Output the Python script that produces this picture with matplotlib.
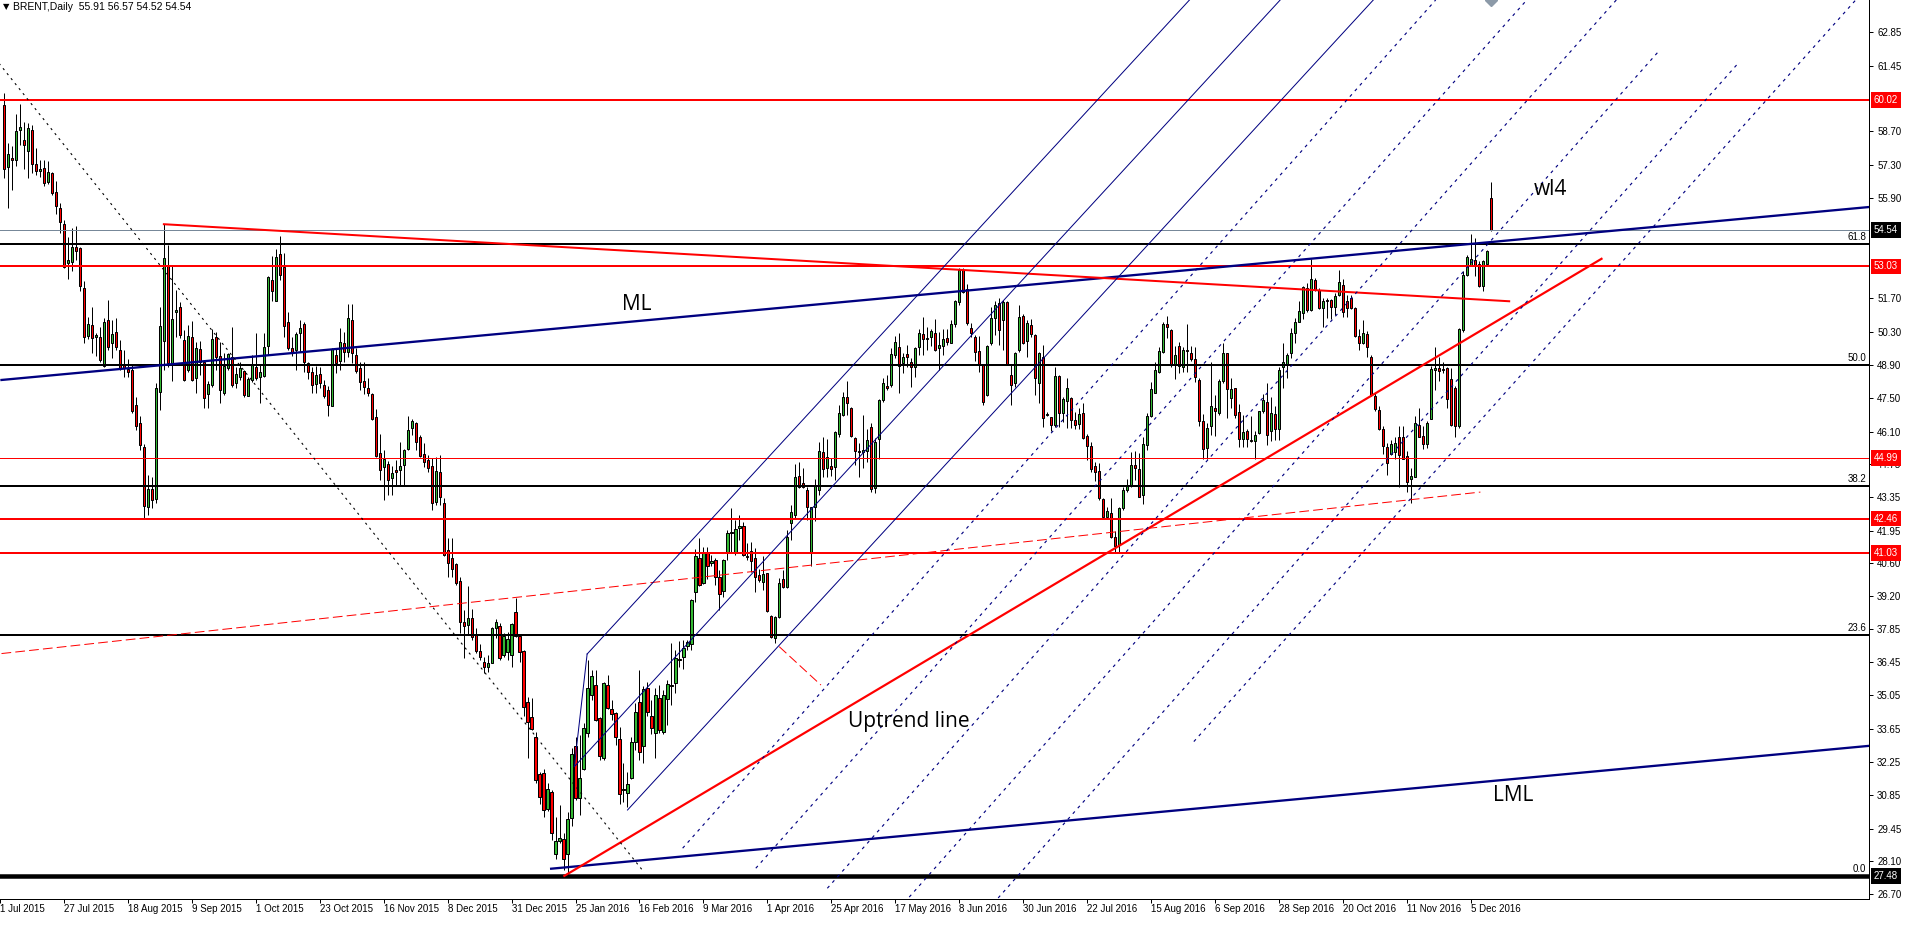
import numpy as np
import matplotlib
matplotlib.use("Agg")
import matplotlib.pyplot as plt
from matplotlib.ticker import FormatStrFormatter

plt.rcParams['lines.scale_dashes'] = False
plt.rcParams['font.family'] = ['Liberation Sans', 'DejaVu Sans']

# ---- daily candles, bar index 0 = 6 Jul 2015 ----
opens = [
    59.80, 57.18, 57.58, 57.50, 58.73, 58.34, 57.85, 58.75, 57.32, 57.04,
    57.15, 56.56, 56.94, 56.14, 55.46, 54.81, 53.16, 53.21, 53.86, 53.79,
    52.12, 50.13, 50.58, 50.06, 50.09, 48.86, 50.79, 49.84, 50.27, 49.53,
    48.90, 48.72, 48.69, 47.22, 46.46, 45.48, 42.95, 43.70, 43.30, 47.76,
    49.92, 53.07, 48.94, 51.10, 51.35, 49.95, 48.69, 50.06, 48.34, 49.56,
    49.04, 47.67, 48.06, 50.06, 49.28, 47.71, 48.76, 49.22, 48.13, 48.41,
    48.65, 47.60, 48.27, 48.83, 48.41, 48.45, 49.71, 52.47, 51.60, 53.56,
    53.02, 50.68, 49.60, 49.53, 50.23, 50.62, 48.97, 48.62, 48.11, 48.52,
    48.06, 47.83, 47.19, 49.32, 49.08, 49.84, 49.46, 50.79, 49.32, 48.76,
    48.23, 47.92, 47.69, 46.71, 45.20, 44.64, 44.75, 44.15, 44.50, 44.50,
    44.71, 45.37, 46.25, 46.46, 45.90, 45.16, 44.92, 44.67, 43.17, 44.43,
    43.10, 41.15, 40.80, 40.54, 39.85, 38.14, 38.00, 38.28, 37.58, 36.91,
    36.44, 36.25, 36.42, 37.86, 37.96, 36.74, 36.88, 36.74, 38.53, 37.54,
    36.91, 34.76, 34.13, 33.29, 31.75, 31.78, 30.27, 31.01, 28.39, 28.94,
    29.03, 28.39, 29.89, 32.93, 30.73, 31.95, 33.46, 35.05, 35.49, 34.09,
    32.41, 35.49, 34.48, 34.30, 33.21, 31.13, 30.94, 31.57, 33.11, 34.79,
    32.93, 35.35, 34.19, 33.46, 34.93, 33.50, 34.88, 35.49, 35.58, 36.57,
    36.64, 37.13, 37.20, 39.36, 40.80, 39.75, 41.05, 40.59, 40.73, 40.03,
    39.44, 41.01, 41.91, 41.01, 42.05, 42.15, 40.89, 41.12, 40.80, 40.10,
    39.78, 40.17, 38.38, 37.44, 38.32, 39.92, 39.61, 42.26, 42.61, 44.26,
    43.94, 43.66, 41.01, 42.96, 43.66, 45.23, 44.57, 44.67, 44.61, 46.01,
    46.81, 47.57, 47.08, 45.83, 45.31, 45.27, 45.30, 46.29, 43.73, 45.78,
    47.43, 48.00, 48.06, 49.32, 49.67, 49.00, 49.36, 49.01, 48.80, 49.64,
    50.18, 49.98, 50.06, 50.23, 49.60, 49.70, 50.02, 49.84, 50.60, 51.55,
    52.88, 52.07, 50.44, 50.09, 49.49, 48.90, 47.64, 49.84, 50.86, 51.51,
    50.79, 51.55, 48.48, 48.13, 49.53, 50.95, 49.92, 50.58, 50.16, 48.13,
    49.22, 46.80, 46.70, 46.38, 48.44, 46.90, 47.40, 47.50, 46.59, 46.42,
    46.87, 45.92, 45.50, 44.66, 44.45, 43.27, 42.51, 42.68, 41.70, 41.35,
    42.89, 43.66, 43.84, 44.71, 44.52, 43.45, 45.55, 46.76, 47.74, 48.62,
    49.46, 50.60, 50.37, 48.90, 49.70, 48.83, 49.53, 49.42, 49.15, 48.27,
    46.53, 45.41, 46.35, 47.09, 46.88, 48.21, 49.39, 47.51, 47.93, 46.91,
    45.79, 46.15, 45.77, 45.73, 46.04, 46.95, 47.33, 46.15, 46.85, 46.21,
    48.81, 48.95, 49.42, 50.23, 50.72, 51.07, 52.12, 51.21, 52.47, 52.05,
    51.28, 51.63, 51.63, 51.35, 51.84, 52.26, 51.60, 51.70, 51.28, 50.12,
    49.84, 50.20, 49.25, 47.60, 47.02, 46.21, 45.45, 45.17, 45.23, 45.87,
    45.87, 45.09, 44.11, 44.22, 46.39, 45.93, 45.59, 46.63, 48.67, 48.77,
    48.72, 48.77, 48.30, 47.93, 46.32, 50.37, 52.68, 53.06, 53.31, 53.14,
    52.19, 53.14, 55.91]

highs = [
    60.29, 58.20, 58.06, 59.41, 59.83, 59.10, 59.03, 58.95, 57.99, 57.50,
    57.50, 57.43, 56.97, 56.63, 55.68, 54.98, 54.28, 54.63, 54.73, 53.86,
    52.40, 50.93, 51.35, 50.23, 50.51, 50.86, 51.63, 50.79, 50.86, 49.95,
    49.53, 49.14, 48.90, 47.57, 46.74, 45.60, 44.30, 44.20, 48.13, 51.35,
    54.80, 53.93, 53.03, 52.05, 51.53, 50.37, 50.58, 50.76, 49.88, 49.92,
    49.11, 48.23, 50.40, 50.30, 49.88, 49.39, 49.42, 50.51, 48.80, 49.04,
    48.69, 48.41, 49.32, 50.23, 48.90, 50.26, 52.61, 53.47, 53.75, 54.31,
    53.58, 51.14, 50.09, 50.30, 50.79, 50.68, 49.04, 48.83, 48.86, 48.83,
    48.27, 48.00, 49.60, 49.60, 50.44, 50.30, 51.46, 51.46, 49.60, 49.04,
    49.04, 48.34, 47.72, 47.04, 46.01, 45.34, 44.89, 44.67, 44.92, 45.69,
    45.37, 46.74, 46.63, 46.49, 45.97, 45.62, 45.13, 44.99, 45.06, 45.13,
    43.31, 41.63, 41.63, 40.59, 40.03, 38.63, 39.64, 38.66, 37.86, 37.20,
    36.67, 36.74, 37.93, 38.25, 38.07, 37.68, 37.72, 38.10, 39.12, 37.58,
    36.95, 34.97, 34.93, 33.53, 31.85, 31.95, 31.36, 31.08, 29.96, 30.45,
    29.27, 30.17, 32.83, 33.32, 33.39, 33.88, 36.53, 36.11, 36.11, 34.13,
    35.62, 35.90, 34.85, 34.33, 33.74, 32.20, 31.85, 33.32, 34.72, 36.11,
    35.44, 35.62, 34.86, 35.35, 35.49, 35.28, 35.69, 37.23, 36.95, 37.34,
    37.37, 37.37, 39.08, 41.17, 41.63, 41.26, 41.26, 40.94, 40.80, 40.31,
    40.75, 41.98, 42.89, 42.40, 42.61, 42.33, 41.42, 41.49, 41.22, 40.33,
    40.87, 40.19, 38.42, 38.38, 39.96, 40.31, 41.96, 43.03, 44.75, 44.81,
    44.57, 43.80, 42.96, 44.11, 45.69, 45.90, 45.78, 44.99, 46.11, 47.22,
    47.78, 48.24, 47.15, 45.90, 45.62, 46.81, 46.20, 46.46, 45.83, 47.46,
    48.34, 48.48, 49.60, 50.10, 50.25, 49.42, 49.74, 49.18, 49.67, 50.39,
    50.90, 50.51, 50.39, 50.83, 50.30, 50.39, 50.39, 50.79, 51.62, 52.95,
    52.95, 52.30, 50.67, 50.16, 50.11, 48.94, 49.74, 51.35, 51.60, 51.69,
    51.62, 51.58, 48.94, 49.46, 51.42, 51.04, 50.79, 50.81, 50.18, 49.44,
    49.74, 46.92, 46.73, 48.80, 48.48, 47.57, 48.34, 47.57, 46.94, 47.08,
    47.32, 45.99, 45.68, 44.85, 44.80, 43.31, 42.96, 43.31, 41.95, 42.96,
    43.77, 44.10, 45.26, 45.31, 45.19, 45.89, 46.87, 48.20, 49.04, 49.64,
    50.72, 50.95, 50.39, 49.70, 49.88, 49.64, 50.60, 49.70, 49.67, 48.34,
    46.85, 46.46, 49.04, 47.65, 48.30, 49.84, 49.42, 48.35, 47.95, 47.27,
    46.81, 46.21, 46.77, 46.11, 46.99, 47.69, 48.16, 47.55, 47.16, 48.83,
    49.81, 49.42, 50.44, 50.86, 51.56, 52.19, 52.33, 53.34, 52.54, 52.12,
    51.70, 51.70, 51.66, 51.91, 52.89, 52.50, 51.84, 51.84, 51.32, 50.40,
    50.79, 50.34, 49.32, 47.72, 47.16, 46.32, 45.62, 45.76, 45.90, 46.32,
    46.32, 45.31, 44.57, 46.77, 47.09, 46.32, 46.53, 48.86, 49.65, 49.25,
    49.04, 48.83, 48.77, 48.00, 50.44, 52.82, 53.52, 54.40, 54.22, 53.24,
    53.31, 53.73, 56.57]

lows = [
    56.73, 55.47, 56.24, 57.22, 58.13, 57.11, 56.73, 56.94, 56.87, 56.80,
    56.41, 56.49, 56.03, 55.23, 54.42, 52.95, 52.49, 52.82, 53.30, 51.98,
    49.81, 49.98, 49.42, 49.29, 49.04, 48.80, 49.53, 49.18, 49.53, 48.69,
    48.41, 48.38, 46.88, 46.18, 45.34, 42.50, 42.60, 42.90, 43.10, 47.01,
    48.69, 48.83, 48.24, 50.09, 50.02, 48.24, 48.62, 48.24, 47.71, 48.48,
    47.08, 47.08, 47.99, 48.69, 47.29, 47.64, 48.69, 47.99, 47.95, 48.27,
    47.55, 47.58, 48.20, 48.27, 47.32, 48.41, 49.32, 51.60, 51.56, 52.47,
    50.09, 49.53, 49.28, 48.69, 49.46, 48.62, 48.30, 47.72, 47.72, 47.92,
    47.50, 46.74, 47.16, 48.55, 48.69, 49.04, 49.25, 49.00, 48.58, 47.86,
    47.69, 47.58, 46.60, 45.06, 44.08, 43.24, 43.45, 43.45, 43.87, 43.87,
    43.87, 45.34, 45.97, 45.34, 45.06, 44.64, 44.43, 42.82, 43.03, 43.03,
    40.89, 40.03, 40.03, 39.68, 37.65, 36.60, 37.62, 37.37, 36.84, 36.53,
    36.00, 36.04, 36.39, 37.44, 36.53, 36.67, 36.53, 36.25, 37.51, 36.46,
    34.19, 32.41, 33.60, 31.39, 30.50, 29.96, 30.22, 28.99, 28.17, 28.85,
    27.73, 27.48, 29.55, 30.66, 30.03, 31.92, 33.32, 34.85, 33.99, 32.34,
    32.34, 34.47, 34.02, 32.97, 30.50, 30.59, 30.38, 31.53, 32.76, 32.34,
    32.20, 34.19, 33.43, 32.41, 33.46, 33.43, 33.81, 34.65, 35.16, 36.25,
    36.14, 36.95, 36.95, 38.98, 39.64, 39.72, 39.92, 40.45, 39.68, 38.63,
    39.19, 40.73, 41.01, 40.94, 41.56, 40.87, 40.73, 40.24, 39.36, 39.82,
    39.47, 38.56, 37.44, 37.23, 38.28, 39.54, 39.54, 41.56, 42.47, 43.73,
    43.73, 42.40, 40.45, 42.37, 43.45, 44.22, 44.19, 44.25, 44.08, 45.90,
    46.74, 46.81, 45.90, 44.71, 44.22, 44.57, 44.85, 43.59, 43.52, 44.95,
    47.36, 47.83, 47.99, 49.20, 47.74, 48.55, 48.80, 47.99, 48.38, 49.32,
    49.32, 49.53, 49.70, 49.50, 48.69, 49.32, 49.74, 49.81, 50.51, 51.41,
    51.90, 50.58, 50.09, 49.08, 48.62, 47.22, 47.60, 49.74, 50.16, 49.74,
    49.53, 48.90, 47.22, 47.99, 49.46, 49.78, 49.25, 50.09, 47.64, 47.32,
    46.31, 46.74, 46.15, 46.31, 46.31, 46.52, 46.24, 46.24, 46.20, 46.20,
    45.78, 44.92, 44.43, 44.05, 43.24, 42.47, 42.47, 41.63, 41.00, 41.00,
    42.82, 43.59, 43.80, 44.08, 43.35, 43.07, 45.33, 46.73, 47.71, 48.55,
    49.39, 50.02, 48.83, 48.30, 48.55, 48.62, 48.62, 49.08, 48.20, 46.35,
    44.95, 44.95, 45.97, 45.93, 46.81, 48.16, 46.67, 47.09, 46.67, 45.45,
    45.45, 45.48, 45.65, 44.95, 46.01, 46.88, 45.55, 45.73, 45.76, 45.76,
    47.93, 48.35, 49.18, 49.81, 50.68, 50.82, 51.14, 51.18, 52.02, 51.24,
    50.51, 50.86, 50.82, 51.00, 51.80, 50.93, 50.93, 51.24, 50.09, 49.51,
    49.79, 49.25, 47.60, 46.95, 46.18, 45.17, 44.29, 45.13, 44.95, 43.78,
    44.95, 43.59, 43.10, 44.19, 45.87, 45.37, 45.41, 46.63, 47.86, 48.21,
    48.55, 47.09, 46.32, 45.87, 46.25, 50.30, 52.61, 53.03, 52.64, 52.16,
    52.02, 53.10, 54.52]

closes = [
    57.11, 57.73, 57.50, 58.71, 58.87, 58.11, 58.82, 57.33, 57.04, 57.12,
    56.52, 56.99, 56.10, 55.57, 54.88, 53.00, 53.30, 53.86, 53.67, 52.19,
    50.06, 50.61, 50.02, 50.16, 49.11, 50.69, 49.64, 50.20, 49.64, 48.72,
    48.76, 48.59, 46.99, 46.32, 45.55, 43.00, 43.70, 43.25, 47.92, 50.55,
    53.37, 48.97, 50.82, 51.21, 50.16, 48.27, 50.12, 48.27, 49.60, 49.04,
    47.50, 48.11, 49.98, 49.25, 47.83, 48.86, 49.36, 48.06, 48.52, 48.76,
    47.65, 48.30, 48.90, 48.34, 48.62, 49.64, 52.58, 52.02, 53.42, 52.67,
    50.55, 49.60, 49.46, 50.20, 50.44, 49.04, 48.62, 48.06, 48.48, 48.16,
    47.60, 47.23, 49.56, 49.00, 49.88, 49.46, 50.86, 49.39, 48.66, 48.20,
    47.97, 47.72, 46.62, 45.09, 44.50, 44.95, 44.08, 44.36, 44.43, 44.67,
    45.34, 46.18, 46.53, 45.69, 45.09, 44.85, 44.57, 43.10, 44.47, 43.38,
    40.94, 40.59, 40.33, 39.75, 38.14, 37.97, 38.28, 37.51, 36.92, 36.67,
    36.23, 36.42, 37.86, 38.11, 36.60, 37.54, 37.40, 38.04, 37.54, 36.88,
    34.58, 33.92, 33.63, 31.50, 30.80, 30.24, 31.11, 29.27, 28.94, 29.06,
    28.17, 29.85, 32.59, 30.73, 31.57, 33.67, 35.35, 35.86, 34.02, 32.51,
    35.56, 34.51, 34.27, 33.29, 30.91, 31.08, 31.33, 33.11, 34.33, 32.69,
    35.30, 34.37, 33.67, 35.07, 33.60, 35.07, 35.51, 35.44, 36.63, 36.53,
    37.05, 37.30, 39.05, 40.87, 39.68, 41.00, 40.45, 40.70, 40.00, 39.30,
    40.73, 41.87, 41.84, 42.01, 42.15, 40.94, 40.84, 40.70, 40.03, 39.89,
    40.14, 38.60, 37.48, 38.35, 39.75, 39.58, 41.70, 42.75, 44.22, 43.80,
    43.77, 42.93, 42.93, 43.83, 45.31, 44.53, 45.03, 44.53, 46.08, 46.90,
    47.55, 47.32, 45.92, 45.31, 45.23, 45.34, 45.76, 43.69, 45.69, 47.43,
    48.13, 47.95, 49.36, 49.88, 48.86, 49.22, 49.22, 48.80, 49.60, 50.25,
    49.98, 50.02, 50.32, 49.53, 49.74, 49.98, 49.85, 50.60, 51.58, 52.88,
    51.97, 50.65, 50.23, 49.46, 48.90, 47.36, 49.70, 50.86, 51.41, 50.37,
    51.55, 48.94, 48.06, 49.39, 50.90, 49.81, 50.67, 50.20, 48.34, 49.42,
    46.66, 46.85, 46.38, 48.44, 46.87, 47.46, 47.92, 46.59, 46.37, 46.84,
    45.82, 45.50, 44.52, 44.43, 43.31, 42.51, 42.79, 41.67, 41.31, 42.89,
    43.66, 43.84, 44.71, 44.57, 43.38, 45.59, 46.76, 47.88, 48.69, 49.49,
    50.62, 50.48, 48.90, 49.32, 48.86, 49.53, 49.50, 49.14, 48.41, 46.57,
    45.37, 46.25, 47.16, 46.99, 48.21, 49.39, 47.88, 47.88, 46.81, 45.79,
    46.07, 45.79, 45.70, 45.97, 46.99, 47.41, 45.97, 46.88, 46.21, 48.69,
    49.04, 49.32, 50.23, 50.72, 51.18, 52.15, 51.21, 52.51, 52.05, 51.28,
    51.60, 51.60, 51.32, 51.80, 52.36, 51.14, 51.28, 51.28, 50.12, 49.84,
    50.23, 49.65, 47.65, 47.05, 46.21, 45.51, 44.78, 45.59, 45.62, 45.13,
    44.95, 44.01, 44.25, 46.46, 45.90, 45.59, 46.46, 48.72, 48.77, 48.63,
    48.67, 47.47, 46.40, 46.35, 50.40, 52.68, 53.42, 53.34, 53.06, 52.19,
    53.24, 53.66, 54.54]

# ---- time axis labels (bar index of each label) ----
date_bars = [-1, 15, 31, 47, 63, 79, 95, 111, 127, 143, 159, 175, 191, 207,
             223, 239, 255, 271, 287, 303, 319, 335, 351, 367]
date_labels = ["1 Jul 2015", "27 Jul 2015", "18 Aug 2015", "9 Sep 2015",
               "1 Oct 2015", "23 Oct 2015", "16 Nov 2015", "8 Dec 2015",
               "31 Dec 2015", "25 Jan 2016", "16 Feb 2016", "9 Mar 2016",
               "1 Apr 2016", "25 Apr 2016", "17 May 2016", "8 Jun 2016",
               "30 Jun 2016", "22 Jul 2016", "15 Aug 2016", "6 Sep 2016",
               "28 Sep 2016", "20 Oct 2016", "11 Nov 2016", "5 Dec 2016"]

price_ticks = [62.85, 61.45, 58.70, 57.30, 55.90, 51.70, 50.30, 48.90, 47.50,
               46.10, 44.75, 43.35, 41.95, 40.60, 39.20, 37.85, 36.45, 35.05,
               33.65, 32.25, 30.85, 29.45, 28.10, 26.70]

# horizontal levels
red_levels = [60.02, 53.03, 44.99, 42.46, 41.03]
red_widths_px = [2, 2, 1, 2, 2]
fib_levels = [53.95, 48.90, 43.84, 37.59, 27.48]
fib_names = ["61.8", "50.0", "38.2", "23.6", "0.0"]
bottom_level = 27.48

# sloped objects: (x0, y0, x1, y1) in bar index / price
ml_line = (-0.625, 48.27, 466.6, 55.52)
lml_line = (136.9, 27.78, 466.6, 32.93)
red_down_line = (40.0, 54.80, 376.6, 51.57)
uptrend_line = (140.2, 27.48, 399.7, 53.35)
red_dash_line = (-0.625, 36.80, 369.4, 43.57)
red_short_line = (193.96, 37.09, 204.4, 35.48)
fib_diag = (-43.0, 70.32, 160.2, 27.62)
fork_lines = [(145.9, 36.78, 296.6, 64.2),
              (142.7, 32.06, 319.3, 64.2),
              (156.0, 30.24, 342.6, 64.2),
              (142.7, 32.06, 145.9, 36.78)]
dot_lines = [(169.8, 28.64, 358.2, 64.2),
             (188.1, 27.80, 381.0, 64.2),
             (206.0, 26.96, 403.4, 64.2),
             (224.0, 26.12, 413.95, 62.04),
             (242.0, 25.28, 433.95, 61.56),
             (297.7, 33.11, 463.3, 64.2)]

# text objects: (text, bar, baseline price)
notes = [("ML", 154.5, 51.21), ("Uptrend line", 211.05, 33.73),
         ("wl4", 382.7, 56.03), ("LML", 372.5, 30.63)]

PX = 0.72  # points per pixel at 100 dpi
GREEN = '#33b833'
RED = '#ff0000'
NAVY = '#000080'
GRAY = '#778899'
SMALL = 7

o = np.array(opens); h = np.array(highs); l = np.array(lows); c = np.array(closes)
bars = np.arange(len(c))

fig = plt.figure(figsize=(19.11, 9.25), dpi=100)
ax = fig.add_axes([0, 26 / 925, 1869 / 1911, 899 / 925])
ax.set_xlim(-0.625, 466.625)
ax.set_ylim(26.51, 64.20)

# candles
ax.vlines(bars, l, h, color='black', lw=PX, zorder=2)
up = c >= o
lo = np.minimum(o, c)
hh = np.abs(c - o)
ax.bar(bars[up], hh[up], bottom=lo[up], width=0.55, color=GREEN,
       edgecolor='black', linewidth=PX, zorder=3)
ax.bar(bars[~up], hh[~up], bottom=lo[~up], width=0.55, color=RED,
       edgecolor='black', linewidth=PX, zorder=3)

# horizontal lines
for lv, w in zip(red_levels, red_widths_px):
    ax.axhline(lv, color=RED, lw=w * PX, zorder=4)
for lv in fib_levels:
    ax.axhline(lv, color='black', lw=2 * PX, zorder=4)
ax.axhline(bottom_level, color='black', lw=4.5 * PX, zorder=4)
ax.axhline(c[-1], color=GRAY, lw=1 * PX, zorder=4)


def seg(line, **kw):
    x0, y0, x1, y1 = line
    ax.plot([x0, x1], [y0, y1], **kw)


seg(ml_line, color=NAVY, lw=2.3 * PX, zorder=5)
seg(lml_line, color=NAVY, lw=2.3 * PX, zorder=5)
seg(red_down_line, color=RED, lw=2 * PX, zorder=5)
seg(uptrend_line, color=RED, lw=2.2 * PX, zorder=5)
seg(red_dash_line, color=RED, lw=1 * PX, dashes=(7, 3), zorder=5)
seg(red_short_line, color=RED, lw=1 * PX, dashes=(7, 3), zorder=5)
seg(fib_diag, color='black', lw=1.1 * PX, dashes=(1.6, 3.0), zorder=5)
for ln in fork_lines:
    seg(ln, color=NAVY, lw=1 * PX, zorder=5)
for ln in dot_lines:
    seg(ln, color=NAVY, lw=1.15 * PX, dashes=(2.2, 3.2), zorder=5)

for txt, bx, by in notes:
    ax.text(bx, by, txt, fontsize=15, family=['Open Sans', 'DejaVu Sans'],
            ha='left', va='baseline', color='black', zorder=6)

# fib level captions at the right end
for lv, nm in zip(fib_levels, fib_names):
    ax.annotate(nm, xy=(1, lv), xycoords=('axes fraction', 'data'),
                xytext=(-3, 2), textcoords='offset pixels', ha='right',
                va='bottom', fontsize=SMALL, zorder=6)

# axes look
for s in ('left', 'top'):
    ax.spines[s].set_visible(False)
for s in ('right', 'bottom'):
    ax.spines[s].set_linewidth(PX)
ax.yaxis.tick_right()
ax.set_yticks(price_ticks)
ax.yaxis.set_major_formatter(FormatStrFormatter('%.2f'))
ax.tick_params(axis='y', length=4 * PX, width=PX, pad=3, labelsize=SMALL,
               direction='out')
ax.set_xticks(date_bars)
ax.tick_params(axis='x', length=4 * PX, width=PX, labelbottom=False,
               direction='out')
for b, lab in zip(date_bars, date_labels):
    ax.annotate(lab, xy=(b, 0), xycoords=('data', 'axes fraction'),
                xytext=(0, -5), textcoords='offset pixels', ha='left',
                va='top', fontsize=SMALL, annotation_clip=False)

# price boxes on the scale
box_levels = [60.02, c[-1], 53.03, 44.99, 42.46, 41.03, bottom_level]
box_colors = [RED, 'black', RED, RED, RED, RED, 'black']
for lv, bc in zip(box_levels, box_colors):
    ax.annotate(f"{lv:.2f}", xy=(1, lv), xycoords=('axes fraction', 'data'),
                xytext=(5, 0), textcoords='offset pixels', ha='left',
                va='center', fontsize=SMALL, color='white', zorder=7,
                annotation_clip=False,
                bbox=dict(boxstyle='square,pad=0.3', fc=bc, ec='none'))

# chart header and shift marker
ax.annotate("\u25bc", xy=(0, 1), xycoords='axes fraction', xytext=(3, -7),
            textcoords='offset pixels', ha='left', va='center', fontsize=6,
            family=['DejaVu Sans'])
ax.annotate(f"BRENT,Daily  {o[-1]:.2f} {h[-1]:.2f} {l[-1]:.2f} {c[-1]:.2f}",
            xy=(0, 1), xycoords='axes fraction', xytext=(13, -7),
            textcoords='offset pixels', ha='left', va='center', fontsize=7.5)
ax.plot([bars[-1]], [64.20], marker='D', ms=6, color='#8c9aa8', zorder=6,
        clip_on=True)

fig.savefig("out.png", dpi=100)
